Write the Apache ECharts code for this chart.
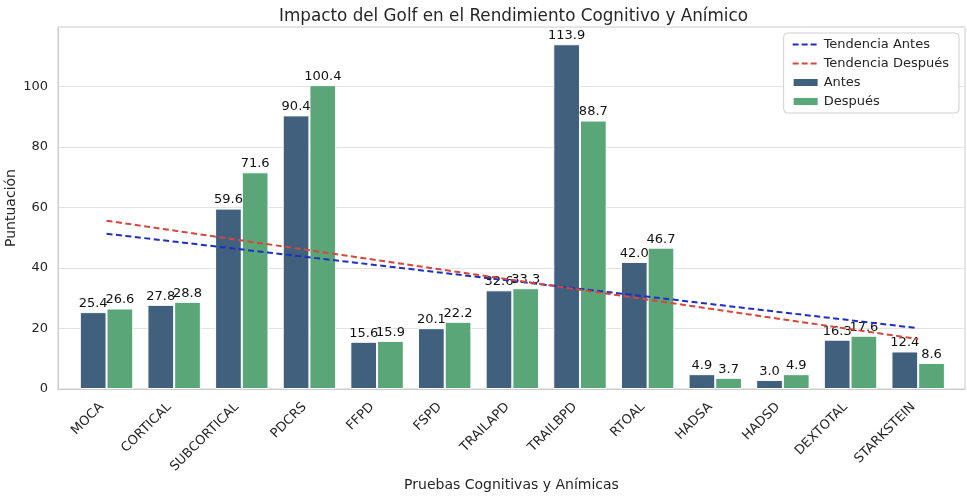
<!DOCTYPE html>
<html>
<head>
<meta charset="utf-8">
<script src="https://cdn.jsdelivr.net/npm/echarts@6/dist/echarts.min.js"></script>
<style>
  html, body { margin: 0; padding: 0; background: #fff; }
  #chart { width: 967px; height: 498px; }
</style>
</head>
<body>
<div id="chart"></div>
<script>
var categories = ['MOCA', 'CORTICAL', 'SUBCORTICAL', 'PDCRS', 'FFPD', 'FSPD', 'TRAILAPD',
    'TRAILBPD', 'RTOAL', 'HADSA', 'HADSD', 'DEXTOTAL', 'STARKSTEIN'];
var antes = [25.4, 27.8, 59.6, 90.4, 15.6, 20.1, 32.6, 113.9, 42.0, 4.9, 3.0, 16.3, 12.4];
var despues = [26.6, 28.8, 71.6, 100.4, 15.9, 22.2, 33.3, 88.7, 46.7, 3.7, 4.9, 17.6, 8.6];
// trend line ends (first and last category)
var trendAntes = [51.3, 20.1];
var trendDespues = [55.6, 16.5];

var font = 'DejaVu Sans';
var yMax = 119.6;
// dashed line icon for the legend (M points keep the box 26x9)
var dashIcon = 'path://M0,0M26,9M0,3.6h6v1.8h-6zM9,3.6h6v1.8h-6zM18,3.6h6v1.8h-6z';

// only the ends are given, the line runs straight between them
function trendData(ends) {
    var d = categories.map(function () { return null; });
    d[0] = ends[0];
    d[d.length - 1] = ends[1];
    return d;
}

var dom = document.getElementById('chart');
var myChart = echarts.init(dom, null, { renderer: 'canvas' });

var barLabel = {
    show: true,
    position: 'top',
    distance: 2,
    color: '#111',
    fontFamily: font,
    fontSize: 13,
    formatter: function (p) { return p.value.toFixed(1); }
};

var option = {
    animation: false,
    backgroundColor: '#fff',
    title: {
        text: 'Impacto del Golf en el Rendimiento Cognitivo y Anímico',
        left: 274,
        top: 3,
        textStyle: { fontFamily: font, fontSize: 16.8, fontWeight: 'normal', color: '#262626' }
    },
    legend: {
        orient: 'vertical',
        right: 8,
        top: 33,
        backgroundColor: '#fff',
        borderColor: '#d0d0d0',
        borderWidth: 1,
        borderRadius: 4,
        padding: [5, 10, 5, 8],
        itemWidth: 26,
        itemHeight: 9,
        itemGap: 6,
        textStyle: { fontFamily: font, fontSize: 13, color: '#262626' },
        data: [
            { name: 'Tendencia Antes', icon: dashIcon },
            { name: 'Tendencia Después', icon: dashIcon },
            { name: 'Antes', icon: 'rect' },
            { name: 'Después', icon: 'rect' }
        ]
    },
    // grid 0: the frame with the y axis; grid 1: the categories (with margins like matplotlib)
    grid: [
        {
            left: 58, right: 2, top: 27, bottom: 109,
            outerBoundsMode: 'none', containLabel: false,
            show: true, borderColor: '#cccccc', borderWidth: 1
        },
        {
            left: 72.7, right: 15, top: 27, bottom: 109,
            outerBoundsMode: 'none', containLabel: false
        }
    ],
    xAxis: [
        {
            gridIndex: 0,
            type: 'value',
            min: 0,
            max: 1,
            show: true,
            name: 'Pruebas Cognitivas y Anímicas',
            nameLocation: 'middle',
            nameGap: 89,
            nameMoveOverlap: false,
            nameTextStyle: { fontFamily: font, fontSize: 14, color: '#262626' },
            axisLine: { show: true, onZero: false, lineStyle: { color: '#cccccc' } },
            axisTick: { show: false },
            axisLabel: { show: false },
            splitLine: { show: false }
        },
        {
            gridIndex: 1,
            type: 'category',
            data: categories,
            axisLine: { show: false },
            axisTick: { show: false },
            axisLabel: {
                rotate: 45,
                margin: 11,
                padding: [0, 7, 0, 0],
                fontFamily: font,
                fontSize: 13,
                color: '#262626'
            }
        }
    ],
    yAxis: [
        {
            gridIndex: 0,
            type: 'value',
            min: 0,
            max: yMax,
            interval: 20,
            name: 'Puntuación',
            nameLocation: 'middle',
            nameGap: 40,
            nameMoveOverlap: false,
            nameTextStyle: { fontFamily: font, fontSize: 14, color: '#262626' },
            axisLine: { show: true, lineStyle: { color: '#cccccc' } },
            axisTick: { show: false },
            axisLabel: {
                fontFamily: font,
                fontSize: 13,
                color: '#262626',
                margin: 10,
                formatter: function (v) { return v % 20 === 0 ? String(v) : ''; }
            },
            splitLine: { lineStyle: { color: '#e3e3e3' } }
        },
        {
            gridIndex: 1,
            type: 'value',
            min: 0,
            max: yMax,
            interval: 20,
            show: false,
            splitLine: { show: false }
        }
    ],
    series: [
        {
            name: 'Antes',
            type: 'bar',
            xAxisIndex: 1,
            yAxisIndex: 1,
            data: antes,
            barGap: '0%',
            barCategoryGap: '21%',
            itemStyle: { color: '#41607e', borderColor: '#ffffff', borderWidth: 1 },
            label: barLabel
        },
        {
            name: 'Después',
            type: 'bar',
            xAxisIndex: 1,
            yAxisIndex: 1,
            data: despues,
            itemStyle: { color: '#5ba678', borderColor: '#ffffff', borderWidth: 1 },
            label: barLabel
        },
        {
            name: 'Tendencia Antes',
            type: 'line',
            xAxisIndex: 1,
            yAxisIndex: 1,
            data: trendData(trendAntes),
            connectNulls: true,
            symbol: 'none',
            z: 5,
            itemStyle: { color: '#1f2fc4' },
            lineStyle: { color: '#1f2fc4', width: 2, type: [6, 3.5] }
        },
        {
            name: 'Tendencia Después',
            type: 'line',
            xAxisIndex: 1,
            yAxisIndex: 1,
            data: trendData(trendDespues),
            connectNulls: true,
            symbol: 'none',
            z: 5,
            itemStyle: { color: '#d6463c' },
            lineStyle: { color: '#d6463c', width: 2, type: [6, 3.5] }
        }
    ]
};

myChart.setOption(option);
window.addEventListener('resize', myChart.resize);
</script>
</body>
</html>
